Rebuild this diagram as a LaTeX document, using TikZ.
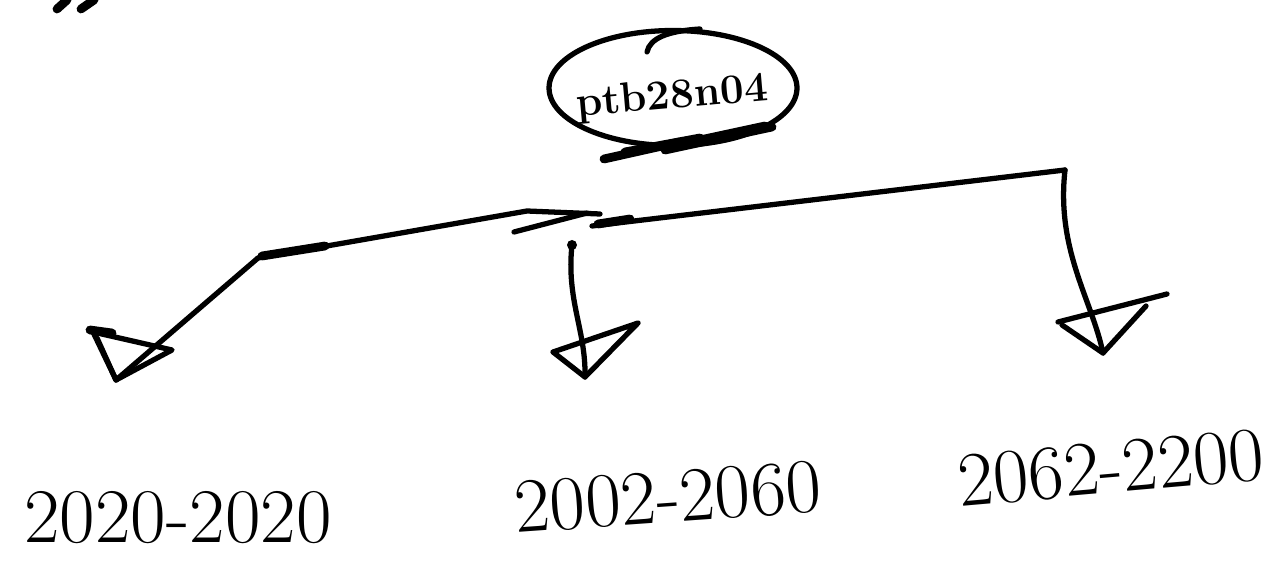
\documentclass[tikz,border=0pt]{standalone}
\usetikzlibrary{shapes.geometric}
\begin{document}
\begin{tikzpicture}[x=0.02cm,y=-0.02cm, line cap=round, line join=round,
  pen/.style={line width=3pt, black},
  heavy/.style={line width=5pt, black},
  lab/.style={font=\fontsize{44}{44}\selectfont, inner sep=0pt}]
\useasboundingbox (0,0) rectangle (1281,563);
% tick marks top-left
\draw[heavy] (57,9) -- (67,0);
\draw[heavy] (81,9) -- (94,0);
% top ellipse
\node[ellipse, draw, pen, minimum width=4.96cm, minimum height=2.3cm, inner sep=0pt] (top) at (673,88) {};
\draw[pen] (647,52) .. controls (650,38) and (668,31) .. (700,29);
\node[font=\fontsize{24}{24}\selectfont\bfseries, rotate=5, inner sep=0pt] (toptext) at (672,98) {ptb28n04};
% underline scribbles
\draw[heavy] (604,159) -- (680,142);
\draw[heavy] (625,152) -- (700,138);
\draw[heavy] (665,150) -- (772,127);
\draw[heavy] (700,140) -- (765,126);
% junction coordinates
\coordinate (jl) at (258,258);
\coordinate (jm) at (527,211);
\coordinate (jr) at (592,226);
\coordinate (cr) at (1065,170);
\coordinate (sm) at (572,245);
\coordinate (tipL) at (116,380);
\coordinate (tipM) at (585,377);
\coordinate (tipR) at (1103,353);
% horizontal bar
\draw[pen] (jl) -- (jm) -- (600,214);
\draw[pen] (514,232) -- (587,213);
\draw[pen] (jr) -- (cr);
\draw[heavy] (262,256) -- (325,246);
\draw[heavy] (598,224) -- (630,219);
% left branch
\draw[pen] (jl) -- (tipL);
\draw[pen] (93,332) -- (172,350) -- (tipL) -- cycle;
\draw[heavy] (90,330) -- (112,333);
\draw[pen] (97,338) -- (tipL);
% middle branch
\fill (sm) circle (5);
\draw[pen] (sm) .. controls (566,300) and (586,330) .. (tipM);
\draw[pen] (553,352) -- (638,323) -- (tipM) -- (553,352);
% right branch
\draw[pen] (cr) .. controls (1056,250) and (1092,300) .. (tipR);
\draw[pen] (1058,322) -- (1167,294);
\draw[pen] (1062,325) -- (tipR) -- (1146,306);
% labels
\node[lab] (l1) at (178,518) {2020-2020};
\node[lab, rotate=4] (l2) at (668,497) {2002-2060};
\node[lab, rotate=5] (l3) at (1111,468) {2062-2200};
\end{tikzpicture}
\end{document}
